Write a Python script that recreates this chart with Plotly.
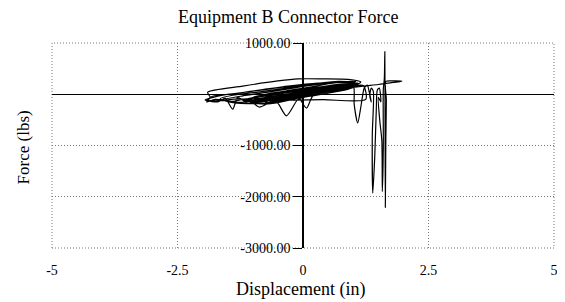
import plotly.graph_objects as go

# ---- data ----
disp = [
    0.00, 0.30, 0.60, 0.40, 0.00, -0.40, -0.70, -0.40, 0.00, 0.50, 0.80, 0.50, 0.00, -0.50, -0.90, -0.60,
    -0.10, 0.40, 0.90, 0.70, 0.20, -0.30, -0.90, -1.20, -0.90, -0.40, 0.20, 0.70, 1.00, 0.80, 0.30, -0.20,
    -0.70, -1.10, -1.30, -1.40, -1.55, -1.70, -1.90, -1.80, -1.30, -0.80, -0.30, 0.30, 0.80, 1.10, 0.90, 0.50,
    0.10, -0.10, -0.33, -0.55, -0.87, -1.10, -1.40, -1.75, -1.92, -1.85, -1.90, -1.20, -0.50, -0.10, 0.40, 0.90,
    1.15, 1.00, 0.60, 0.20, 0.07, -0.10, -0.50, -0.90, -1.30, -1.70, -1.95, -1.60, -1.00, -0.40, 0.20, 0.70,
    1.00, 0.80, 0.40, 0.00, -0.40, -0.90, -0.60, -0.20, 0.30, 0.80, 1.10, 0.90, 0.50, 0.00, -0.50, -0.20,
    0.30, 0.60, 0.30, -0.10, 0.40, 0.90, 1.20, 1.25, 0.40, -0.60, -1.00, -0.70, -0.20, 0.40, 0.85, 1.05,
    0.90, 0.60, 0.20, -0.20, -0.60, -0.30, 0.20, 0.70, 0.95, 0.70, 0.30, -0.10, -0.50, -0.90, -1.10, -0.80,
    -0.40, 0.10, 0.50, 0.90, 1.00, 0.70, 0.20, -0.30, -0.80, -1.00, -0.70, -0.20, 0.30, 0.80, 1.05, 0.80,
    0.40, -0.10, -0.60, -0.95, -0.75, -0.30, 0.20, 0.65, 0.95, 0.75, 0.35, -0.05, -0.45, -0.85, -1.15, -0.90,
    -0.50, 0.00, 0.45, 0.85, 1.10, 0.85, 0.45, 0.05, -0.35, -0.75, -0.55, -0.15, 0.25, 0.60, 0.90, 0.70,
    0.30, -0.15, -0.55, -0.80, -1.30, -1.60, -1.20, -0.70, -0.20, 0.30, 0.75, 1.05, 0.80, 0.35, -0.10, -0.55,
    -0.95, -1.35, -1.65, -1.40, -0.90, -0.40, 0.10, 0.60, 0.95, 0.70, 0.25, -0.25, -0.70, -1.05, -0.85, -0.35,
    0.15, 0.55, 0.85, 0.60, 0.15, -0.30, -0.75, -0.50, -0.05, 0.40, 0.80, 1.00, 1.02, 1.09, 1.16, 1.22,
    1.28, 1.32, 1.36, 1.33, 1.36, 1.40, 1.38, 1.39, 1.43, 1.46, 1.48, 1.52, 1.55, 1.50, 1.53, 1.57,
    1.58, 1.60, 1.60, 1.62, 1.63, 1.635, 1.64, 1.65, 1.66, 1.65, 1.80, 1.97, 1.80, 1.50, 1.20, 0.80,
    0.30, -0.20, -0.60,
]
force = [
    0, 60, 120, 90, 10, -60, -90, -40, 30, 110, 160, 90, -10, -90, -110, -50,
    40, 130, 180, 120, 20, -70, -130, -110, -50, 30, 120, 190, 210, 140, 40, -60,
    -120, -180, -60, -290, -80, -150, -120, -40, 20, 90, 160, 220, 230, 200, 130, 50,
    -40, -100, -420, -120, -250, -90, -140, -100, -150, -60, 40, 160, 260, 300, 300, 290,
    240, 160, 70, -30, -270, -60, -130, -110, -90, -130, -110, -20, 60, 140, 200, 250,
    230, 170, 80, -20, -100, -140, -60, 10, 90, 150, 180, 100, 20, -60, -110, -40,
    60, 120, 30, -40, 70, 140, 170, -100, -105, -110, -60, 10, 80, 150, 210, 180,
    120, 60, -10, -80, -130, -50, 40, 120, 170, 100, 30, -40, -100, -150, -140, -80,
    -10, 70, 140, 190, 160, 90, 0, -70, -130, -120, -50, 20, 100, 170, 200, 140,
    60, -20, -90, -150, -90, -20, 60, 130, 180, 120, 40, -30, -80, -140, -130, -60,
    0, 80, 150, 200, 220, 150, 70, -10, -70, -120, -60, 10, 90, 140, 190, 130,
    50, -40, -100, -120, -160, -110, -30, 40, 120, 190, 240, 250, 160, 60, -60, -150,
    -180, -170, -90, -20, 40, 110, 180, 230, 220, 110, 0, -110, -190, -160, -40, 60,
    140, 210, 230, 120, 20, -90, -170, -40, 40, 110, 170, 190, -200, -560, -200, 120,
    180, 40, -150, -30, 120, 60, -800, -1930, -1200, -300, 80, 120, -150, -60, -520, -900,
    -1900, -1000, 100, 300, 830, -600, -2210, -900, -100, 250, 260, 255, 230, 190, 160, 110,
    50, -10, -60,
]

x_tickvals = [-5, -2.5, 0, 2.5, 5]
x_ticktext = ["-5", "-2.5", "0", "2.5", "5"]
y_tickvals = [1000, -1000, -2000, -3000]
y_ticktext = ["1000.00", "-1000.00", "-2000.00", "-3000.00"]

chart_title = "Equipment B Connector Force"
x_title = "Displacement (in)"
y_title = "Force (lbs)"

FONT = "Liberation Serif"
GRID = "#777777"
GRID_DASH = "1px,2px"

fig = go.Figure()
fig.add_trace(go.Scatter(
    x=disp, y=force, mode="lines",
    line=dict(color="black", width=1.2, shape="spline", smoothing=0.7),
    showlegend=False, hoverinfo="skip",
))

fig.update_layout(
    width=557, height=294,
    margin=dict(l=44, r=11, t=35, b=54, autoexpand=False),
    paper_bgcolor="white", plot_bgcolor="white",
    font=dict(family=FONT, color="black", size=14),
    title=dict(text=chart_title, x=0.503, xref="container", xanchor="center",
               y=0.972, yref="container", yanchor="middle",
               font=dict(family=FONT, size=18, color="black")),
    xaxis=dict(
        range=[-5, 5], tickmode="array", tickvals=x_tickvals, ticktext=x_ticktext,
        showgrid=True, gridcolor=GRID, griddash=GRID_DASH, gridwidth=1,
        zeroline=False, showline=False, ticks="", ticklabelstandoff=12,
        tickfont=dict(family=FONT, size=14, color="black"),
    ),
    yaxis=dict(
        range=[-3000, 1000], tickmode="array", tickvals=y_tickvals, ticktext=y_ticktext,
        anchor="free", position=0.5,
        showgrid=True, gridcolor=GRID, griddash=GRID_DASH, gridwidth=1,
        zeroline=True, zerolinecolor="black", zerolinewidth=1,
        showline=True, linecolor="black", linewidth=1.5,
        ticks="outside", ticklen=9, tickcolor="black", tickwidth=1,
        tickfont=dict(family=FONT, size=14, color="black"),
    ),
    shapes=[dict(type="rect", xref="paper", yref="paper", x0=0, y0=0, x1=1, y1=1,
                 line=dict(color=GRID, width=1, dash=GRID_DASH), layer="below")],
    annotations=[
        dict(text=x_title, xref="paper", yref="paper", x=0.496, y=-0.2,
             xanchor="center", yanchor="middle", showarrow=False,
             font=dict(family=FONT, size=18, color="black")),
        dict(text=y_title, xref="paper", yref="paper", x=-0.056, y=0.49,
             xanchor="center", yanchor="middle", showarrow=False, textangle=-90,
             font=dict(family=FONT, size=17, color="black")),
    ],
)

fig.write_html("out.html")
